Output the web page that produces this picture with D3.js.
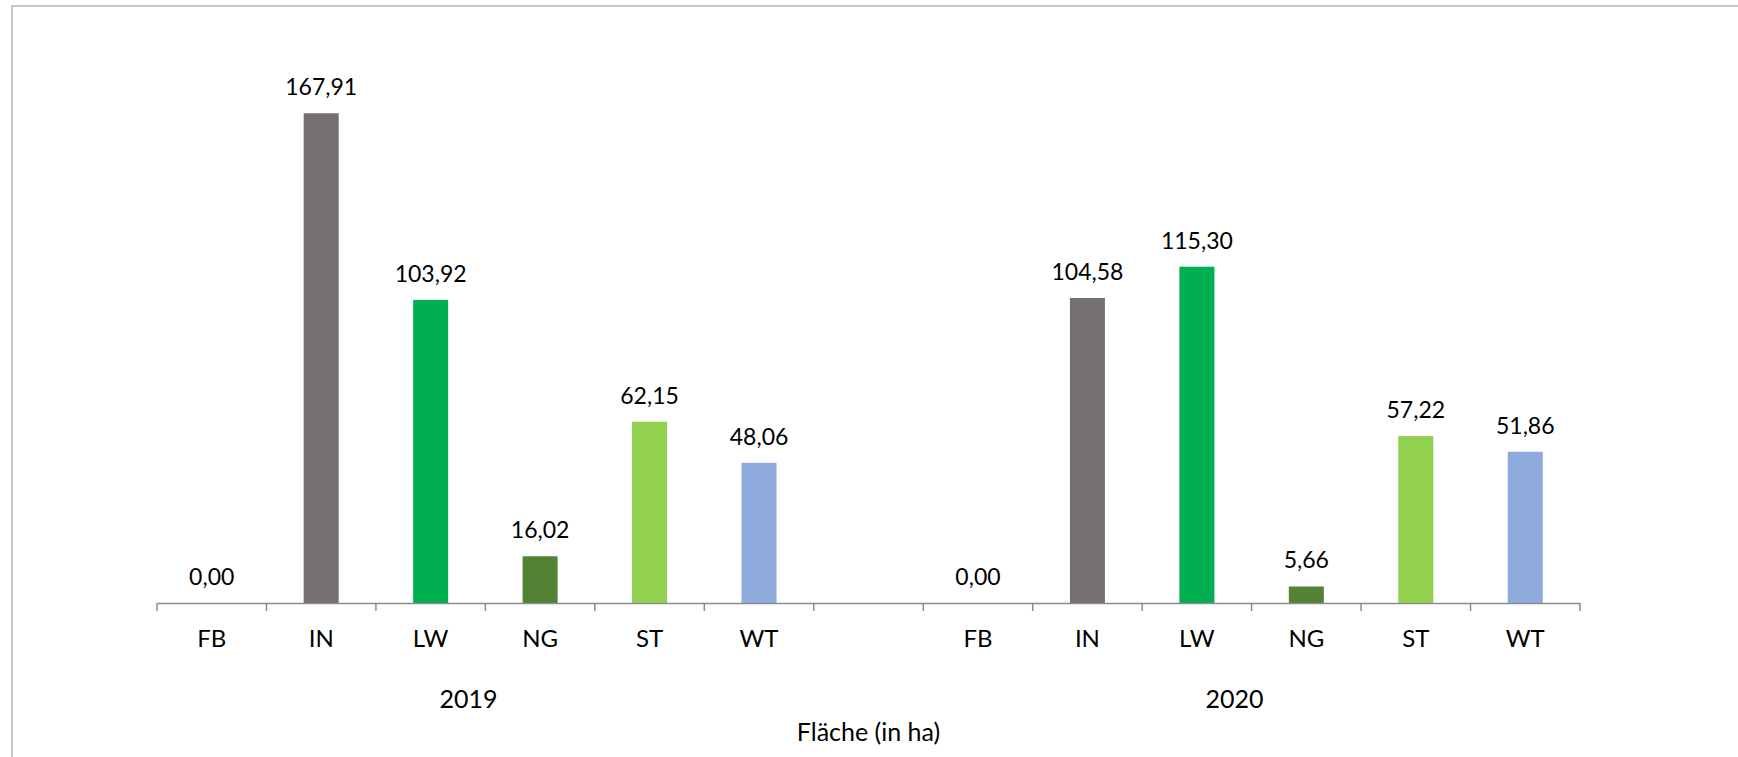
<!DOCTYPE html>
<html>
<head>
<meta charset="utf-8">
<script src="https://cdn.jsdelivr.net/npm/d3@7"></script>
<style>
  html, body { margin: 0; padding: 0; background: #fff; }
  svg { display: block; }
  text { font-family: Lato, "Open Sans", sans-serif; fill: #000; }
</style>
</head>
<body>
<svg id="chart" width="1738" height="757"></svg>
<script>
// Land-use area per category (ha), two survey years
const years = ["2019", "2020"];
const categories = ["FB", "IN", "LW", "NG", "ST", "WT"];
const values2019 = [0.00, 167.91, 103.92, 16.02, 62.15, 48.06];
const values2020 = [0.00, 104.58, 115.30, 5.66, 57.22, 51.86];
const colors = ["#767171", "#767171", "#00b050", "#548235", "#92d050", "#8faadc"];
const axisTitle = "Fläche (in ha)";

const seriesByYear = { "2019": values2019, "2020": values2020 };

// One slot per bar, with an empty slot separating the two years
const slots = [];
years.forEach((yr, gi) => {
  categories.forEach((c, i) => slots.push({ key: yr + "|" + c, year: yr, cat: c, value: seriesByYear[yr][i], color: colors[i] }));
  if (gi < years.length - 1) slots.push({ key: yr + "|gap", year: yr, cat: "", value: null });
});

const svg = d3.select("#chart");
const fmt = v => d3.format(".2f")(v).replace(".", ",");

const x = d3.scaleBand().domain(slots.map(d => d.key)).range([157, 1580]).padding(0);
const y = d3.scaleLinear().domain([0, 180]).range([603, 78]);

// Frame
svg.append("path")
  .attr("d", "M12,757 L12,6 L1738,6")
  .attr("fill", "none")
  .attr("stroke", "#b4b4b4")
  .attr("stroke-width", 1.5);

// Bars
const barW = x.bandwidth() * 0.32;
const bars = slots.filter(d => d.value !== null);
svg.append("g").selectAll("rect").data(bars).join("rect")
  .attr("x", d => x(d.key) + x.bandwidth() / 2 - barW / 2)
  .attr("width", barW)
  .attr("y", d => y(d.value))
  .attr("height", d => y(0) - y(d.value))
  .attr("fill", d => d.color);

// Value labels
svg.append("g").selectAll("text").data(bars).join("text")
  .attr("x", d => x(d.key) + x.bandwidth() / 2)
  .attr("y", d => y(d.value) - 27)
  .attr("text-anchor", "middle")
  .attr("dominant-baseline", "central")
  .attr("font-size", 23)
  .text(d => fmt(d.value));

// Category axis
const xAxis = d3.axisBottom(x).tickSize(0).tickFormat(() => "");
const gx = svg.append("g").attr("transform", `translate(0,${y(0)})`).call(xAxis);
gx.select(".domain").attr("stroke", "#8c8c8c").attr("stroke-width", 1.5);
gx.selectAll(".tick").remove();

// Slot boundaries as tick marks
const bounds = slots.map(d => x(d.key)).concat([x.range()[1]]);
svg.append("g").selectAll("line").data(bounds).join("line")
  .attr("x1", d => d).attr("x2", d => d)
  .attr("y1", y(0)).attr("y2", y(0) + 8)
  .attr("stroke", "#8c8c8c").attr("stroke-width", 1.5);

svg.append("g").selectAll("text").data(slots.filter(d => d.cat)).join("text")
  .attr("x", d => x(d.key) + x.bandwidth() / 2)
  .attr("y", 637)
  .attr("text-anchor", "middle")
  .attr("dominant-baseline", "central")
  .attr("font-size", 24)
  .text(d => d.cat);

// Year labels
svg.append("g").selectAll("text").data(years).join("text")
  .attr("x", yr => {
    const first = x(yr + "|" + categories[0]);
    const last = x(yr + "|" + categories[categories.length - 1]) + x.bandwidth();
    return (first + last) / 2 - 17;
  })
  .attr("y", 698)
  .attr("text-anchor", "middle")
  .attr("dominant-baseline", "central")
  .attr("font-size", 25)
  .text(d => d);

// Axis title
svg.append("text")
  .attr("x", (x.range()[0] + x.range()[1]) / 2)
  .attr("y", 731)
  .attr("text-anchor", "middle")
  .attr("dominant-baseline", "central")
  .attr("font-size", 25)
  .text(axisTitle);
</script>
</body>
</html>
